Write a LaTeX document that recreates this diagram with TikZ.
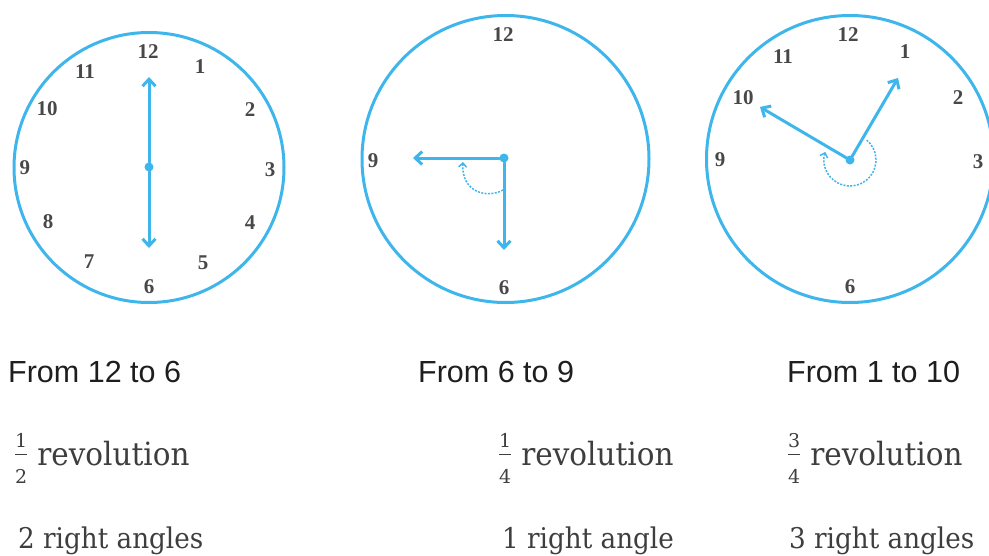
\documentclass[tikz,border=0pt]{standalone}
\usepackage{fontspec}
\usetikzlibrary{arrows.meta,calc}
\newfontfamily\numfont{Liberation Serif}
\newfontfamily\labsans{Liberation Sans}
\newfontfamily\labserif[FakeStretch=0.92]{DejaVu Serif}
\newfontfamily\fracserif{DejaVu Serif}
\definecolor{clockblue}{RGB}{62,182,236}
\definecolor{numgray}{RGB}{72,72,72}
\definecolor{txtdark}{RGB}{30,30,30}
\definecolor{txtgray}{RGB}{62,62,62}
\newcommand\stackfrac[2]{{\fracserif\fontsize{19}{19}\selectfont\setbox0\hbox{#1}%
  \ooalign{\raisebox{18pt}{#1}\cr\raisebox{-18pt}{#2}\cr\raisebox{10.5pt}{\rule{\wd0}{0.9pt}}\cr}}}
\begin{document}
\begin{tikzpicture}[x=1pt,y=-1pt,
  face/.style={draw=clockblue,line width=3pt},
  hand/.style={draw=clockblue,line width=3pt,line cap=round,-{Straight Barb[length=7pt,width=13pt,line width=3pt]}},
  turnarc/.style={draw=clockblue,line width=1.5pt,dash pattern=on 2pt off 1.4pt,-{Straight Barb[length=4pt,width=8pt,line width=1.5pt]}},
  hub/.style={circle,fill=clockblue,inner sep=0pt,minimum size=9pt},
  num/.style={font=\numfont\bfseries\fontsize{21}{21}\selectfont,text=numgray,inner sep=0pt},
  headtxt/.style={font=\labsans\fontsize{30.5}{30.5}\selectfont,text=txtdark,inner sep=0pt,anchor=base west},
  revtxt/.style={font=\labserif\fontsize{32}{32}\selectfont,text=txtgray,inner sep=0pt,anchor=base west},
  bodytxt/.style={font=\labserif\fontsize{28.5}{28.5}\selectfont,text=txtgray,inner sep=0pt,anchor=base west}
]
\useasboundingbox (0,0) rectangle (989,555);

% ---------- clock 1 ----------
\draw[face] (149,167.5) circle[radius=135pt];
\node[num] (a12) at (148,52) {12};
\node[num] (a1) at (200,67) {1};
\node[num] (a2) at (250,110) {2};
\node[num] (a3) at (270,170) {3};
\node[num] (a4) at (250,223) {4};
\node[num] (a5) at (203,263) {5};
\node[num] (a6) at (149,287) {6};
\node[num] (a7) at (89,262) {7};
\node[num] (a8) at (48,222) {8};
\node[num] (a9) at (25,168) {9};
\node[num] (a10) at (47,109) {10};
\node[num] (a11) at (85,72) {11};
\node[hub] (c1) at (149,167) {};
\coordinate (c1up) at (149,77);
\coordinate (c1dn) at (149,248);
\draw[hand] (c1) -- (c1up);
\draw[hand] (c1) -- (c1dn);

% ---------- clock 2 ----------
\draw[face] (505.5,159) circle[radius=143.5pt];
\node[num] (b12) at (503,35) {12};
\node[num] (b9) at (373,161) {9};
\node[num] (b6) at (504,288) {6};
\node[hub] (c2) at (504,158) {};
\coordinate (c2lf) at (413,158);
\coordinate (c2dn) at (504,250);
\draw[hand] (c2) -- (c2lf);
\draw[hand] (c2) -- (c2dn);
\coordinate (c2s) at (503,190);
\coordinate (c2e) at (463,162);
\draw[turnarc] (c2s) .. controls (487,199) and (461,192) .. (c2e);

% ---------- clock 3 ----------
\draw[face] (850,159) circle[radius=143.5pt];
\node[num] (d12) at (848,35) {12};
\node[num] (d1) at (905,52) {1};
\node[num] (d2) at (958,98) {2};
\node[num] (d3) at (978,162) {3};
\node[num] (d6) at (850,287) {6};
\node[num] (d9) at (720,160) {9};
\node[num] (d10) at (743,98) {10};
\node[num] (d11) at (783,57) {11};
\node[hub] (c3) at (850,160) {};
\coordinate (c3one) at (898,78);
\coordinate (c3ten) at (760,107);
\draw[hand] (c3) -- (c3one);
\draw[hand] (c3) -- (c3ten);
\draw[turnarc] ($(c3)+(50:26pt)$) arc[start angle=50,end angle=-198,radius=26pt];

% ---------- captions ----------
\node[headtxt] (h1) at (8,382) {From 12 to 6};
\node[headtxt] (h2) at (418,382) {From 6 to 9};
\node[headtxt] (h3) at (787,382) {From 1 to 10};

\node[revtxt] (r1) at (15,465) {\stackfrac{1}{2}\hspace{10pt}revolution};
\node[revtxt] (r2) at (499,465) {\stackfrac{1}{4}\hspace{10pt}revolution};
\node[revtxt] (r3) at (788,465) {\stackfrac{3}{4}\hspace{10pt}revolution};

\node[bodytxt] (g1) at (18,548) {2 right angles};
\node[bodytxt] (g2) at (502,548) {1 right angle};
\node[bodytxt] (g3) at (789,548) {3 right angles};
\end{tikzpicture}
\end{document}
